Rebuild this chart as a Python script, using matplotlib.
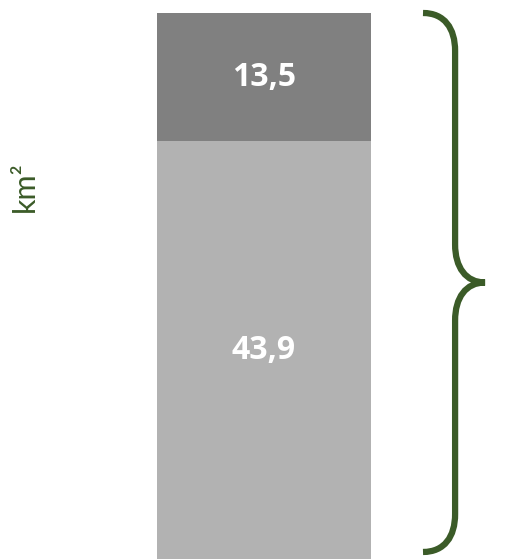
import numpy as np
import matplotlib
matplotlib.use("Agg")
import matplotlib.pyplot as plt
from matplotlib.path import Path
from matplotlib.patches import PathPatch
import matplotlib.transforms as mtransforms

# data: one stacked bar, bottom segment first
segments = [43.9, 13.5]
seg_labels = ["43,9", "13,5"]
seg_colors = ["#b2b2b2", "#808080"]
unit_label = "km\u00b2"

green = "#3b5b28"
plt.rcParams['font.family'] = ['Lato', 'DejaVu Sans']

W, H = 527, 559
fig = plt.figure(figsize=(W / 100, H / 100), dpi=100)

# axes placed so the bar fills it (pixel box of the bar in the reference)
bx0, bx1, by_top, by_bot = 157, 371, 13, 559
ax = fig.add_axes([bx0 / W, (H - by_bot) / H, (bx1 - bx0) / W, (by_bot - by_top) / H])

total = sum(segments)
bottom = 0
for val, lab, col in zip(segments, seg_labels, seg_colors):
    ax.bar(0, val, width=1.0, bottom=bottom, color=col, edgecolor='none')
    ax.text(0, bottom + val / 2, lab, ha='center', va='center', color='white',
            fontsize=23, fontweight='bold', family=['Open Sans', 'DejaVu Sans'])
    bottom += val

ax.set_xlim(-0.5, 0.5)
ax.set_ylim(0, total)
ax.axis('off')

# curly brace spanning the total, x in axes fraction, y in data units
trans = mtransforms.blended_transform_factory(ax.transAxes, ax.transData)
y0, y1 = 0.74, total
ym = (y0 + y1) / 2
c = 4.0
xe, xv, xt = 1.243, 1.393, 1.533
verts = [
    (xe, y1), (xe + 0.10, y1), (xv, y1 - 1.6), (xv, y1 - c),
    (xv, ym + c),
    (xv, ym + 1.6), (xv + 0.05, ym), (xt, ym),
    (xv + 0.05, ym), (xv, ym - 1.6), (xv, ym - c),
    (xv, y0 + c),
    (xv, y0 + 1.6), (xe + 0.10, y0), (xe, y0),
]
codes = [Path.MOVETO, Path.CURVE4, Path.CURVE4, Path.CURVE4,
         Path.LINETO,
         Path.CURVE4, Path.CURVE4, Path.CURVE4,
         Path.CURVE4, Path.CURVE4, Path.CURVE4,
         Path.LINETO,
         Path.CURVE4, Path.CURVE4, Path.CURVE4]
brace = PathPatch(Path(verts, codes), transform=trans, facecolor='none',
                  edgecolor=green, lw=4.5, clip_on=False, capstyle='butt')
ax.add_patch(brace)

fig.text(25 / W, 1 - 187 / H, unit_label, rotation=90, ha='center', va='center',
         color=green, fontsize=22)

fig.savefig("out.png", dpi=100)
